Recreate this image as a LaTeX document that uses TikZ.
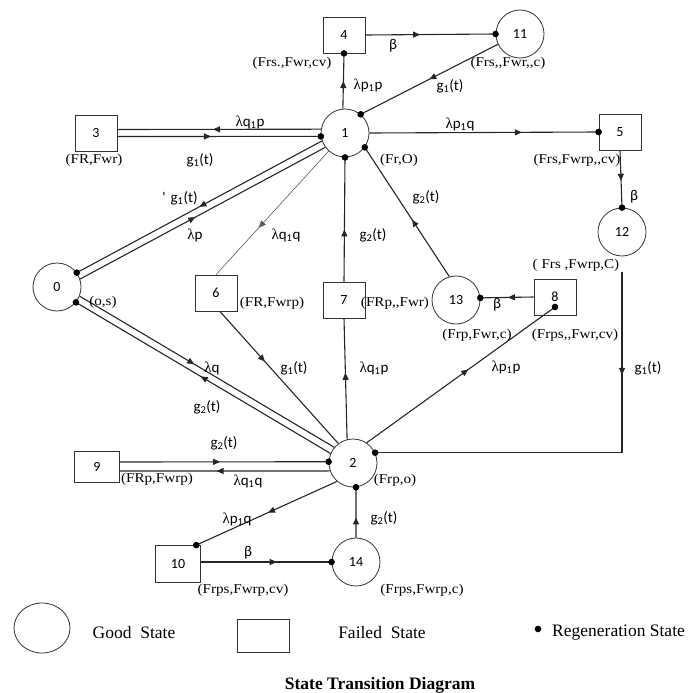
\documentclass[tikz,border=0pt]{standalone}
\usepackage{fontspec}
\setmainfont{Liberation Serif}
\newfontfamily\carl{Carlito}
\newfontfamily\stfont[FakeStretch=1.12]{Liberation Serif}
\usetikzlibrary{arrows.meta,decorations.markings,calc,shapes.geometric}
\newcommand{\lm}{{\rmfamily λ}}
\newcommand{\gfun}[1]{g\textsubscript{#1}(t)}
\tikzset{
  good/.style={circle, draw=black!80, line width=0.8pt, minimum size=48pt, inner sep=0pt, font=\carl\fontsize{14}{16}\selectfont},
  fail/.style={rectangle, draw=black!80, line width=0.8pt, minimum width=42pt, minimum height=36pt, inner sep=0pt, font=\carl\fontsize{14}{16}\selectfont},
  rl/.style={inner sep=0pt, font=\carl\fontsize{15}{17}\selectfont},
  sl/.style={inner sep=0pt, font=\stfont\fontsize{13.5}{15}\selectfont},
  lg/.style={inner sep=0pt, font=\fontsize{17.5}{19}\selectfont},
  edge/.style={line width=1.1pt, draw=black!85},
  thinedge/.style={line width=0.6pt, draw=black!65},
  arr/.style={postaction={decorate,decoration={markings,mark=at position #1 with {\arrow{Triangle[length=7pt,width=6pt]}}}}},
  regdot/.style={fill=black}
}
\begin{document}
\begin{tikzpicture}[x=1pt,y=-1pt]
\useasboundingbox (0,0) rectangle (688,693);

% states
\node[good] (n0) at (57,287) {0};
\node[good] (n1) at (345,133) {1};
\node[good] (n2) at (353,463) {2};
\node[fail] (n3) at (96,133) {3};
\node[fail] (n4) at (344,35) {4};
\node[fail] (n5) at (620,132) {5};
\node[fail] (n6) at (216,293) {6};
\node[fail] (n7) at (344,300) {7};
\node[fail] (n8) at (555,297) {8};
\node[fail, minimum width=45pt, minimum height=31pt] (n9) at (97,467) {9};
\node[fail, minimum width=45pt, minimum height=37pt] (n10) at (178,564) {10};
\node[good] (n11) at (520,34) {11};
\node[good] (n12) at (622,232) {12};
\node[good] (n13) at (456,300) {13};
\node[good] (n14) at (356,562) {14};

% 1 -> 4
\draw[edge,arr=0.5] (n1.95) -- (n4.south);
\fill[regdot] (n4.south) circle (3.3pt);
\node[rl] (l14) at (368,85) {\lm p\textsubscript{1}p};
% 4 -> 11
\draw[edge,arr=0.42] (n4.east) -- (n11.west);
\fill[regdot] (n11.west) circle (3.3pt);
\node[rl] (l411) at (393,46) {β};
% 11 -> 1
\draw[edge,arr=0.5] (n11.205) -- (n1.50);
\fill[regdot] (n1.50) circle (3.3pt);
\node[rl] (l111) at (450,86) {\gfun{1}};
% 1 <-> 3
\draw[edge,arr=0.53] (n1.171.6) -- ([yshift=3.5pt]n3.east);
\draw[edge,arr=0.46] ([yshift=-3.5pt]n3.east) -- (n1.188.4);
\fill[regdot] (n1.188.4) circle (3.3pt);
\node[rl] (l13) at (250,122) {\lm q\textsubscript{1}p};
\node[rl] (l31) at (200,160) {\gfun{1}};
% 1 -> 5
\draw[edge,arr=0.665] (n1.east) -- (n5.west);
\fill[regdot] (n5.west) circle (3.3pt);
\node[rl] (l15) at (460,124) {\lm p\textsubscript{1}q};
% 5 -> 12
\draw[edge,arr=0.53] (n5.south) -- (n12.north);
\fill[regdot] (n12.north) circle (3.3pt);
\node[rl] (l512) at (634,197) {β};
% 12 -> 2
\coordinate (c12) at ([yshift=-16pt]n12.south);
\draw[edge,arr=0.24] (c12) |- (n2.25);
\fill[regdot] (n2.25) circle (3.3pt);
\node[rl] (l122) at (648,368) {\gfun{1}};
% 1 <-> 0
\draw[edge,arr=0.5] (n1.199.7) -- (n0.36.5);
\draw[edge,arr=0.47] (n0.19.7) -- (n1.216.5);
\fill[regdot] (n0.36.5) circle (3.3pt);
\node[rl] (l10) at (180,198) {'\,\,\gfun{1}};
\node[rl] (l01) at (195,235) {\lm p};
% 0 <-> 2
\draw[edge,arr=0.45] (n0.-22.3) -- (n2.140.9);
\draw[edge,arr=0.51] (n2.157.7) -- (n0.-39.1);
\fill[regdot] (n0.-39.1) circle (3.3pt);
\node[rl] (l02) at (212,368) {\lm q};
\node[rl] (l20) at (207,407) {\gfun{2}};
% 1 -> 6
\draw[thinedge,arr=0.62] (n1.228) -- (n6.north);
\node[rl] (l16) at (286,235) {\lm q\textsubscript{1}q};
% 6 -> 2
\draw[edge,arr=0.38] (n6.-78) -- (n2.127);
\node[rl] (l62) at (294,368) {\gfun{1}};
% 7 -> 1
\draw[edge,arr=0.42] (n7.north) -- (n1.south);
\fill[regdot] (n1.south) circle (3.3pt);
\node[rl] (l71) at (373,235) {\gfun{2}};
% 2 -> 7
\draw[edge,arr=0.55] (n2.104) -- (n7.south);
\node[rl] (l27) at (374,368) {\lm q\textsubscript{1}p};
% 13 -> 1
\draw[edge,arr=0.44] (n13.106) -- (n1.-36);
\fill[regdot] (n1.-36) circle (3.3pt);
\node[rl] (l131) at (426,197) {\gfun{2}};
% 8 -> 13
\draw[edge,arr=0.48] (n8.west) -- (n13.5);
\fill[regdot] (n13.5) circle (3.3pt);
\node[rl] (l813) at (497,305) {β};
% 2 -> 8
\coordinate (c8) at ([yshift=-10pt]n8.center);
\draw[edge,arr=0.54] (n2.56) -- (c8);
\fill[regdot] (c8) circle (3.3pt);
\node[rl] (l28) at (506,367) {\lm p\textsubscript{1}p};
% 2 <-> 9
\draw[edge,arr=0.48] ([yshift=5pt]n9.east) -- (n2.177.6);
\fill[regdot] (n2.177.6) circle (3.3pt);
\draw[edge,arr=0.54] (n2.199.5) -- ([yshift=-4pt]n9.east);
\node[rl] (l92) at (224,443) {\gfun{2}};
\node[rl] (l29) at (248,481) {\lm q\textsubscript{1}q};
% 2 -> 10
\draw[edge,arr=0.49] (n2.229) -- (n10.46.5);
\fill[regdot] (n10.46.5) circle (3.3pt);
\node[rl] (l210) at (237,519) {\lm p\textsubscript{1}q};
% 10 -> 14
\draw[edge,arr=0.58] ([yshift=2pt]n10.east) -- (n14.west);
\fill[regdot] (n14.west) circle (3.3pt);
\node[rl] (l1014) at (248,553) {β};
% 14 -> 2
\draw[edge,arr=0.4] (n14.north) -- (n2.-83);
\fill[regdot] (n2.-83) circle (3.3pt);
\node[rl] (l142) at (384,518) {\gfun{2}};

% state descriptions
\node[sl] (s4) at (292,63) {(Frs.,Fwr,cv)};
\node[sl] (s11) at (508,63) {(Frs,,Fwr,,c)};
\node[sl] (s3) at (94,160) {(FR,Fwr)};
\node[sl] (s1) at (399,160) {(Fr,O)};
\node[sl] (s5) at (577,160) {(Frs,Fwrp,,cv)};
\node[sl] (s12) at (576,265) {( Frs ,Fwrp,C)};
\node[sl] (s0) at (103,302) {(o,s)};
\node[sl] (s6) at (272,303) {(FR,Fwrp)};
\node[sl] (s7) at (395,303) {(FRp,,Fwr)};
\node[sl] (s13) at (477,335) {(Frp,Fwr,c)};
\node[sl] (s8) at (575,335) {(Frps,,Fwr,cv)};
\node[sl] (s9) at (157,479) {(FRp,Fwrp)};
\node[sl] (s2) at (395,480) {(Frp,o)};
\node[sl] (s10) at (243,590) {(Frps,Fwrp,cv)};
\node[sl] (s14) at (422,590) {(Frps,Fwrp,c)};

% legend
\node[ellipse, draw=black!80, line width=0.8pt, minimum width=56pt, minimum height=50pt, inner sep=0pt] (lgc) at (42,628) {};
\node[lg] (lgct) at (134,633) {Good\,\,\,State};
\node[rectangle, draw=black!80, line width=0.8pt, minimum width=52pt, minimum height=33pt, inner sep=0pt] (lgb) at (263,636) {};
\node[lg] (lgbt) at (382,633) {Failed\,\,\,State};
\fill[regdot] (538,629) circle (3.3pt);
\node[lg, anchor=west] (lgdt) at (552,633) {Regeneration State};

\node[inner sep=0pt, font=\bfseries\fontsize{17.5}{20}\selectfont] (title) at (380,685) {State Transition Diagram};
\end{tikzpicture}
\end{document}
